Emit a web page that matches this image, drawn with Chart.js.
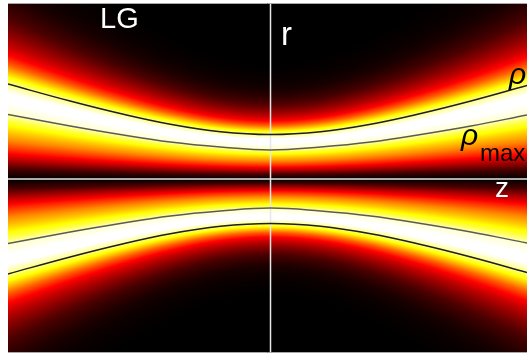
<!DOCTYPE html>
<html>
<head>
<meta charset="utf-8">
<script src="https://cdn.jsdelivr.net/npm/chart.js@4/dist/chart.umd.min.js"></script>
<style>
html,body{margin:0;padding:0;background:#fff;}
canvas{display:block;}
</style>
</head>
<body>
<canvas id="c" width="527" height="358"></canvas>
<script>
// propagation coordinate samples (z)
const zSamples = [-2.62, -2.0, -1.5, -1.0, -0.5, 0, 0.5, 1.0, 1.5, 2.0, 2.56];
// beam radius curve "rho" (black line) at each z
const rhoEdge = [0.95, 0.78, 0.655, 0.548, 0.473, 0.445, 0.473, 0.548, 0.655, 0.78, 0.935];
// radius of maximum intensity "rho_max" (gray line) at each z
const rhoMax = [0.645, 0.53, 0.445, 0.37, 0.32, 0.29, 0.32, 0.37, 0.445, 0.53, 0.64];
// radial colour level (hot colormap, 0..1) versus normalised radius r/rho
const profileS = [0, 0.1, 0.2, 0.3, 0.4, 0.5, 0.6, 0.7, 0.8, 0.9, 1.0, 1.1, 1.2, 1.3, 1.4, 1.5, 1.6, 1.7, 1.8, 1.9, 2.0, 2.2, 2.6, 3.0];
const profileLevel = [0, 0.1, 0.27, 0.43, 0.57, 0.68, 0.8, 0.96, 1, 1, 0.88, 0.7, 0.52, 0.38, 0.29, 0.22, 0.16, 0.11, 0.08, 0.055, 0.035, 0.015, 0, 0];
// axis ranges
const zRange = [-2.62, 2.56];
const rRange = [-1.74, 1.76];
const axisLabels = {title: "LG", r: "r", z: "z", rho: "ρ", rhoMax: "ρ", maxSub: "max"};

function lin(xs, ys, x) {
  if (x <= xs[0]) return ys[0];
  if (x >= xs[xs.length - 1]) return ys[ys.length - 1];
  let i = 1; while (xs[i] < x) i++;
  const t = (x - xs[i - 1]) / (xs[i] - xs[i - 1]);
  return ys[i - 1] + t * (ys[i] - ys[i - 1]);
}
function smooth(xs, ys, x) {
  const n = xs.length;
  if (x <= xs[0]) return ys[0];
  if (x >= xs[n - 1]) return ys[n - 1];
  let i = 1; while (xs[i] < x) i++;
  const x0 = xs[i - 1], x1 = xs[i], y0 = ys[i - 1], y1 = ys[i];
  const h = x1 - x0;
  const m = k => {
    if (k === 0) return (ys[1] - ys[0]) / (xs[1] - xs[0]);
    if (k === n - 1) return (ys[n - 1] - ys[n - 2]) / (xs[n - 1] - xs[n - 2]);
    return (ys[k + 1] - ys[k - 1]) / (xs[k + 1] - xs[k - 1]);
  };
  const m0 = m(i - 1), m1 = m(i);
  const t = (x - x0) / h, t2 = t * t, t3 = t2 * t;
  return (2 * t3 - 3 * t2 + 1) * y0 + (t3 - 2 * t2 + t) * h * m0 + (-2 * t3 + 3 * t2) * y1 + (t3 - t2) * h * m1;
}
function hot(v) {
  v = Math.max(0, Math.min(1, v));
  const r = Math.min(1, v / 0.375);
  const g = Math.max(0, Math.min(1, (v - 0.375) / 0.375));
  const b = Math.max(0, Math.min(1, (v - 0.75) / 0.25));
  return [r * 255, g * 255, b * 255];
}

const heatmap = {
  id: 'heatmap',
  beforeDraw(chart) {
    const {ctx, chartArea, scales} = chart;
    const L = Math.round(chartArea.left), T = Math.round(chartArea.top);
    const W = Math.round(chartArea.right) - L, H = Math.round(chartArea.bottom) - T;
    const img = ctx.createImageData(W, H);
    const d = img.data;
    for (let i = 0; i < W; i++) {
      const z = scales.x.getValueForPixel(L + i + 0.5);
      const rho = smooth(zSamples, rhoEdge, z);
      for (let j = 0; j < H; j++) {
        const r = scales.y.getValueForPixel(T + j + 0.5);
        const v = lin(profileS, profileLevel, Math.abs(r) / rho);
        const c = hot(v);
        const k = (j * W + i) * 4;
        d[k] = c[0]; d[k + 1] = c[1]; d[k + 2] = c[2]; d[k + 3] = 255;
      }
    }
    ctx.putImageData(img, L, T);
    // axis lines through the origin
    const x0 = scales.x.getPixelForValue(0), y0 = scales.y.getPixelForValue(0);
    ctx.save();
    ctx.strokeStyle = '#e6e6e6';
    ctx.lineWidth = 1.5;
    ctx.beginPath();
    ctx.moveTo(x0, chartArea.top); ctx.lineTo(x0, chartArea.bottom);
    ctx.moveTo(chartArea.left, y0); ctx.lineTo(chartArea.right, y0);
    ctx.stroke();
    ctx.restore();
  },
  afterDraw(chart) {
    const {ctx, chartArea} = chart;
    ctx.save();
    ctx.strokeStyle = '#a8a8a8';
    ctx.lineWidth = 1;
    ctx.beginPath();
    ctx.moveTo(chartArea.left, chartArea.top + 0.5); ctx.lineTo(chartArea.right, chartArea.top + 0.5);
    ctx.moveTo(chartArea.left, chartArea.bottom - 0.5); ctx.lineTo(chartArea.right, chartArea.bottom - 0.5);
    ctx.stroke();
    ctx.textBaseline = 'alphabetic';
    ctx.fillStyle = '#ffffff';
    ctx.font = '29px "Liberation Sans", Arial, sans-serif';
    ctx.fillText(axisLabels.title, 100, 28);
    ctx.font = '33px "Liberation Sans", Arial, sans-serif';
    ctx.fillText(axisLabels.r, 281, 45);
    ctx.font = '28px "Liberation Sans", Arial, sans-serif';
    ctx.fillText(axisLabels.z, 495, 197);
    ctx.fillStyle = '#000000';
    ctx.font = 'italic 30px "Liberation Sans", Arial, sans-serif';
    ctx.fillText(axisLabels.rho, 509, 84);
    ctx.fillText(axisLabels.rhoMax, 461, 145);
    ctx.font = '24px "Liberation Sans", Arial, sans-serif';
    ctx.fillText(axisLabels.maxSub, 480, 161);
    ctx.restore();
  }
};

const pts = (arr, sign) => zSamples.map((z, i) => ({x: z, y: sign * arr[i]}));
const lineStyle = (color) => ({showLine: true, pointRadius: 0, borderWidth: 1.4, borderColor: color, tension: 0.4, fill: false});

new Chart(document.getElementById('c'), {
  type: 'scatter',
  data: {
    datasets: [
      Object.assign({label: 'rho upper', data: pts(rhoEdge, 1)}, lineStyle('#1e1e1e')),
      Object.assign({label: 'rho lower', data: pts(rhoEdge, -1)}, lineStyle('#1e1e1e')),
      Object.assign({label: 'rho_max upper', data: pts(rhoMax, 1)}, lineStyle('#5a5a5a')),
      Object.assign({label: 'rho_max lower', data: pts(rhoMax, -1)}, lineStyle('#5a5a5a'))
    ]
  },
  options: {
    responsive: false,
    animation: false,
    layout: {padding: {left: 8, top: 3, right: 0, bottom: 5}},
    plugins: {legend: {display: false}, tooltip: {enabled: false}},
    scales: {
      x: {type: 'linear', display: false, min: zRange[0], max: zRange[1]},
      y: {type: 'linear', display: false, min: rRange[0], max: rRange[1]}
    }
  },
  plugins: [heatmap]
});
</script>
</body>
</html>
